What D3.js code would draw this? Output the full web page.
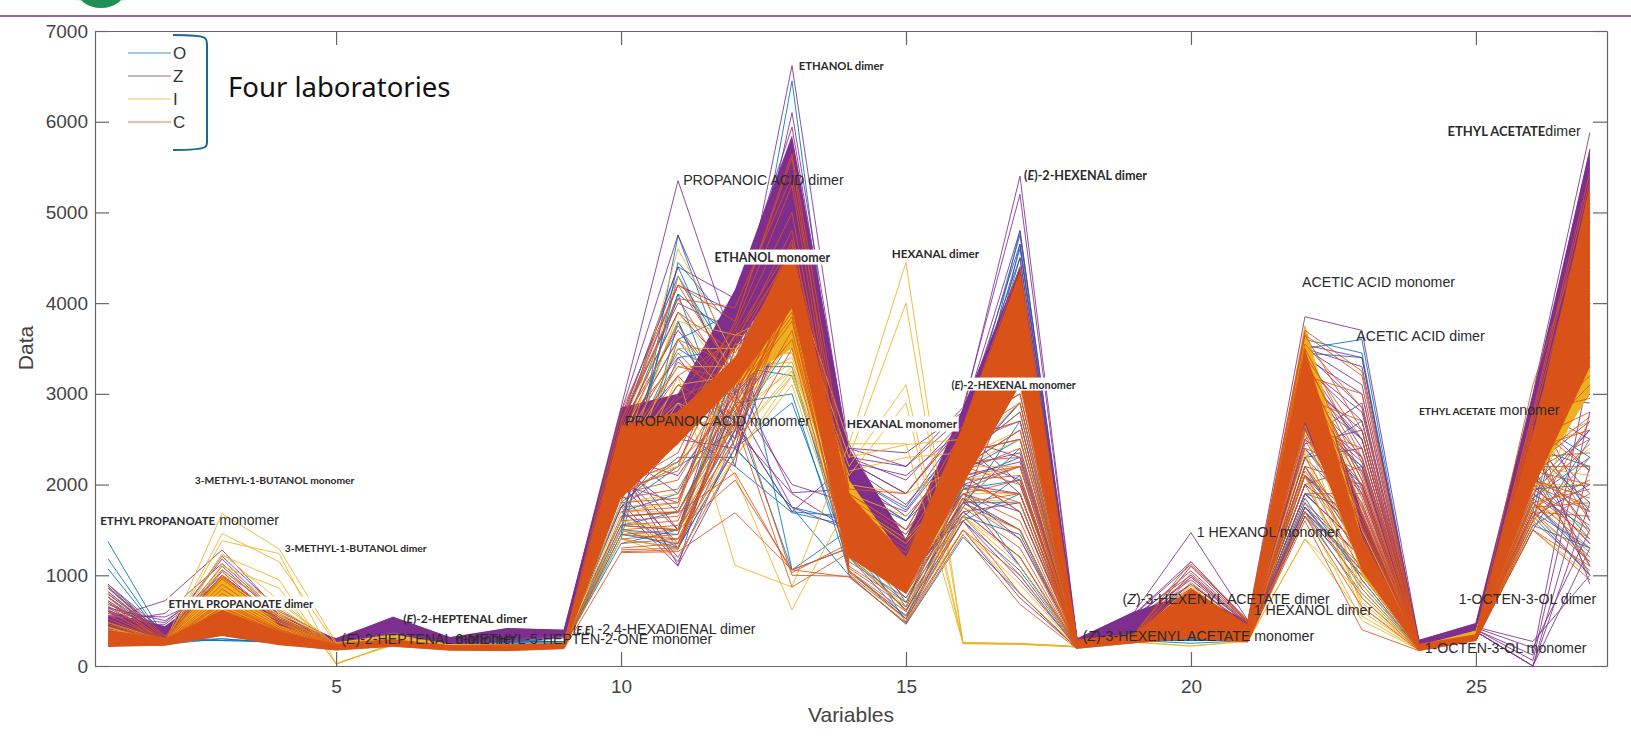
<!DOCTYPE html>
<html>
<head>
<meta charset="utf-8">
<script src="https://d3js.org/d3.v7.min.js"></script>
<style>
  html, body { margin: 0; background: #fff; }
  svg { display: block; }
</style>
</head>
<body>
<svg id="chart" width="1631" height="744"></svg>
<script>
const labNames = ["O", "Z", "I", "C"];
const xTicks = [5, 10, 15, 20, 25];
const yTicks = [0, 1000, 2000, 3000, 4000, 5000, 6000, 7000];

// solid core of each lab, low and high edge per variable
const zLow  = [400,300,500,350,240,370,255,300,340,2300,2600,3500,4450,1900,1000,2400,3400,220,350,400,300,2600,1300,220,340,2450,3500];
const zHigh = [560,440,900,520,310,540,320,420,400,2850,3000,4150,5850,2400,1400,2850,4400,300,600,800,500,3500,1700,290,470,3000,5700];
const iLow  = [230,230,500,250,210,240,200,200,220,1900,2450,3100,3500,1500,800,2000,3100,210,260,400,270,2900,1000,190,310,2000,3000];
const iHigh = [320,290,1000,450,260,350,240,240,260,2500,2750,3350,3950,2050,1150,2400,3800,260,330,700,360,3750,1400,230,390,2500,4800];
const cLow  = [210,225,330,230,175,215,170,165,190,1850,2450,3100,3950,1200,800,2000,3100,190,250,300,260,2700,1050,170,280,1950,3300];
const cHigh = [400,300,620,380,240,290,225,230,250,2650,2800,3400,4600,1900,1200,2650,4350,290,350,850,450,3500,1400,240,340,2550,5300];

// complete profiles, one per sample
const labO = [
  [1370,300,420,260,200,240,190,190,210,1450,4750,3000,6450,1700,900,2200,4800,230,290,330,290,3600,3450,190,300,1700,1300],
  [1180,280,300,255,195,235,185,185,205,1500,4450,3700,5400,1650,700,1950,4650,220,280,300,280,3500,3600,185,295,1900,1500],
  [1070,290,280,270,190,240,190,180,210,1800,4300,3300,5000,1500,650,2300,4500,225,285,290,275,3450,3400,180,290,2100,1700],
  [900,310,400,300,200,260,200,210,220,2100,4100,2400,1750,1600,1150,1600,1900,240,300,450,300,1900,1700,190,300,2400,2200],
  [860,300,460,280,210,250,210,220,215,1400,3800,2200,1690,1550,1000,1650,2100,230,310,500,310,2000,1500,200,310,2200,1000],
  [760,280,520,300,205,245,205,240,230,1600,3600,3900,1060,1500,480,1800,2400,250,320,620,330,2800,2200,210,305,2500,3000],
  [600,270,600,320,215,255,230,260,240,1900,3400,3500,4800,1800,1400,2500,3200,260,340,700,340,2600,2000,220,320,2000,2600],
  [520,290,700,350,220,270,240,300,260,2300,3000,3100,5200,1900,1600,2200,2900,250,300,800,360,2300,2700,215,330,2350,1800],
  [450,260,380,290,200,240,215,250,250,1750,2200,2600,4600,2000,1300,2050,3500,235,290,300,300,1750,1000,200,310,1850,2300],
  [380,250,440,270,195,230,200,230,235,1550,1700,2900,3800,1750,850,1750,2700,220,280,280,285,2200,1250,195,300,2050,3400],
  [320,255,350,260,190,235,195,240,225,1350,1500,3300,3200,1300,600,1850,1500,215,275,320,280,1650,800,185,295,1700,4100],
  [300,240,300,250,185,225,190,235,215,1500,1300,2400,2900,1200,520,2000,1100,210,270,310,275,1850,950,180,290,1550,1300]
];
const labZ = [
  [520,720,1280,600,290,540,310,410,395,2850,5350,3500,6620,2400,2350,2800,5400,300,590,1470,500,3850,3700,280,470,3000,5880],
  [480,580,1130,560,280,520,300,400,390,2800,4750,3300,6100,2300,2200,2850,5200,295,570,1150,480,3540,3400,270,450,2900,5700],
  [540,480,1000,520,275,500,295,390,385,2700,4400,4050,5940,2250,1900,2700,4650,285,550,1000,470,3500,3100,260,440,2800,5200],
  [450,460,950,500,270,480,290,380,380,2650,4200,3900,5800,2100,1750,2650,4400,280,520,950,460,3300,2800,255,380,0,2200],
  [580,430,880,480,265,460,285,370,370,2600,3900,3200,1910,1950,1700,2500,2300,275,500,900,450,3100,2500,250,400,120,3300],
  [650,410,820,460,260,450,280,360,360,2500,3600,2700,1700,2250,2100,2600,2000,270,480,850,440,2800,2300,245,430,270,1000],
  [610,390,760,450,255,430,275,350,355,2450,3200,2500,5500,2000,1600,2450,1900,265,460,780,420,2600,1900,240,420,1800,4900],
  [500,380,700,440,250,420,270,340,350,2400,2600,2200,5300,1900,1400,2200,2600,260,430,720,400,2400,1700,235,410,2300,4400],
  [470,360,660,420,245,400,265,330,345,2350,1900,2900,5100,1800,1250,2100,1700,255,400,650,380,2200,2000,230,400,2600,3800],
  [430,350,620,400,240,380,260,320,340,2300,1500,3100,4900,1700,1150,1900,1400,250,380,600,360,2000,1500,225,390,2500,3200],
  [410,340,580,390,240,370,255,310,340,2200,1110,2300,4700,1600,1050,1850,1100,245,360,520,340,1750,1200,220,380,2200,2700],
  [760,330,540,380,235,360,250,300,335,2100,1300,2600,1900,1500,950,1700,1800,240,350,500,330,1700,1050,215,370,1650,2000],
  [700,320,500,370,235,355,250,295,330,2000,1800,3600,4300,1400,850,2000,2200,235,340,460,320,1900,1300,210,360,2000,1350],
  [640,310,470,360,230,350,245,290,325,1900,2200,3800,4100,2450,1300,2250,2900,230,330,440,310,2100,1600,205,350,2400,1100],
  [820,300,450,350,230,340,240,280,320,1750,2500,3400,3900,2350,1000,2350,3100,225,320,420,300,2300,2400,200,340,2700,900],
  [880,290,430,340,225,330,235,270,310,1600,3000,3000,3700,2200,900,1800,3300,220,310,400,290,2500,2900,195,330,2950,1600]
];
const labI = [
  [300,260,1680,1290,260,300,230,230,250,2300,4600,3400,4300,2450,4450,250,240,210,280,420,300,3750,1500,200,350,2300,4800],
  [280,250,1460,1150,240,320,225,225,245,2200,4300,3200,4100,2300,4000,260,245,215,275,500,295,3600,1400,195,340,2200,4500],
  [290,255,1380,1240,20,250,220,225,240,2100,3900,3100,3900,2200,3100,255,250,215,270,560,290,3500,1300,190,330,2100,4200],
  [270,245,1220,950,20,240,215,220,235,1900,3600,2900,3700,2100,2900,245,240,210,265,620,285,3400,1200,190,320,2000,3600],
  [260,240,1100,860,30,230,210,215,230,1800,3200,1110,870,2450,2450,250,245,210,260,220,280,1400,800,185,310,1900,3100],
  [310,280,1000,700,230,300,225,240,245,1950,2900,2100,620,1800,1350,2100,3400,240,320,760,340,3300,1100,210,370,2450,2600],
  [340,270,920,620,235,330,235,235,255,2450,2600,3650,3600,1900,1650,2300,2600,250,300,840,330,3100,1000,220,380,2250,5200],
  [360,290,860,560,220,310,230,230,250,2050,2200,3550,3450,1650,1000,2200,2200,235,290,900,320,2900,900,205,360,2000,2000],
  [400,300,800,520,215,290,220,220,240,1700,1800,3300,3350,1550,900,1900,1900,225,280,650,310,2600,750,200,345,1800,1400],
  [430,265,740,480,210,270,210,210,235,1600,1500,2800,3250,1450,800,1750,1500,220,270,540,300,2350,650,195,335,1650,1200],
  [480,250,660,430,205,260,205,205,225,1500,1350,2500,3200,1350,700,1650,1100,215,265,460,290,2100,600,190,325,1550,3300],
  [250,235,600,400,200,250,200,200,220,1400,1200,2300,3100,1250,600,1500,800,210,260,330,275,1700,500,180,315,1500,1000]
];
const labC = [
  [900,330,1060,580,250,290,225,235,250,2800,4200,3800,5650,1950,1900,2650,4400,290,350,1150,500,3700,3250,240,345,2800,5450],
  [820,320,980,540,240,285,220,230,245,2700,4050,3950,5400,1900,1500,2600,4300,285,345,1100,480,3650,3200,235,340,3100,5000],
  [330,250,470,330,190,230,195,200,210,1650,1690,2130,1030,1350,900,1950,2200,230,290,540,350,2200,1400,180,285,1800,1950],
  [300,245,440,320,185,228,190,200,205,1550,1500,2050,1060,1300,850,1900,2050,225,285,500,340,2150,1300,175,285,1750,1800],
  [280,240,420,310,185,225,190,195,205,1450,1400,2700,870,1250,800,1800,1900,220,280,460,320,2100,1200,175,280,1700,1650],
  [225,228,340,250,175,216,175,170,190,1250,1260,1690,1060,980,480,1500,1000,195,255,320,270,1600,400,168,282,1500,1100]
];

// partial traces for the crowded stretches, each row starts at the variable in its name
const cFrom1 = [
  [800,300,1000,520,230],[720,290,960,500,225],[660,285,900,470,220],[600,280,850,450,215],[560,270,800,430,210],[520,265,760,410,205],
  [480,260,720,400,200],[460,255,700,390,200],[440,250,680,385,195],[700,245,650,375,195],[620,240,640,370,190],[760,235,560,350,190]
];
const zFrom1 = [
  [900,370,1180,560,260],[860,340,1100,540,255],[790,330,1040,500,250],[680,420,980,480,245],[640,500,900,460,245],[600,360,1210,620,270],[720,310,1000,520,240],[560,540,840,450,250]
];
const iFrom1 = [
  [480,280,1240,720,240],[420,270,1120,650,230],[380,260,1060,600,220],[340,255,880,540,215],[360,250,940,560,210],[300,245,820,500,205]
];
const oFrom1 = [
  [620,300,280,270,200],[540,280,370,300,205],[480,260,400,280,195],[420,270,480,290,210]
];
const oFrom6 = [
  [250,270,270,270],[245,265,265,260],[240,260,280,265]
];
const cFrom10 = [
  [2700,4200,3200,4700,1950],[2650,4050,3050,4300,1900],[2600,3900,3450,4500,1850],[2550,3750,2900,4150,1800],[2500,3600,3300,4400,1780],
  [2450,3450,2800,4050,1750],[2400,3300,3150,4250,1700],[2300,3200,3600,4550,1650],[2250,3100,2750,4000,1620],[2200,3000,3700,5000,1600],
  [2150,2800,3750,5300,1560],[2100,2600,3800,5600,1500],[2050,2450,3550,4800,1480],[2000,2250,3400,4200,1450],[1950,2150,3250,4350,1420],
  [1900,2050,3100,3950,1400],[1850,1950,3000,4100,1350],[1800,1850,2950,3800,1320],[1750,1800,3350,4450,1290],[1700,1750,3500,4600,1260],
  [1650,1700,2850,3600,1230],[1600,1650,2650,4000,1200],[1550,1600,3050,3900,1170],[1500,1550,2600,3700,1140],[1450,1500,2500,4050,1110],
  [1400,1450,3200,4300,1080],[1350,1400,2400,3500,1050],[1300,1350,2750,4150,1020],[1280,1300,3000,3850,1000],[1260,1280,2900,1000,990],
  [2350,3350,2950,4350,1880],[2280,2950,3250,4500,1760],[2120,2700,2650,4200,1680],[1980,2350,3650,4650,1640],[1880,2250,2850,4250,1530]
];
const zFrom10 = [
  [2750,4300,3100,5500,2380],[2700,4000,3700,5300,2300],[2650,3700,2900,5000,2200],[2600,3400,2600,4800,2100],[2500,3000,3300,5200,2050],
  [2400,2500,2400,4600,2000],[2300,2100,3000,2000,1800],[2200,1700,2700,4400,1700],[2100,1500,3500,4200,1600],[2000,1350,2900,1750,1500],
  [1900,1200,2300,4000,1400],[1800,1150,2500,3900,1300],[1750,1100,3200,3800,1250],[1700,1300,2800,3700,1150]
];
const oFrom10 = [
  [2600,4400,3000,4900,1950],[2500,4100,3600,5100,1900],[2350,3800,2500,4500,1800],[2200,3500,3100,4700,1700],[2100,3100,2700,1700,1650],
  [1950,2700,3400,4300,1550],[1800,2300,2300,4100,1500],[1700,1900,3200,3900,1400],[1650,1700,2800,1060,1300],[1550,1500,2600,3600,1200],
  [1500,1450,3300,3300,1100],[1450,1350,2900,3000,1050],[1400,1300,2400,1750,1000]
];
const iFrom10 = [
  [2500,3800,3650,3950,2100],[2400,3500,3500,3800,2050],[2300,3300,3300,3700,2000],[2200,3100,3200,3600,1950],[2100,2800,3050,3550,1900],
  [2000,2500,3400,3450,1850],[1900,2200,3100,3400,1800],[1800,1900,2900,3350,1700],[1700,1700,2700,3300,1600],[1600,1500,2500,3250,1500],
  [1500,1400,2300,3200,1400],[1400,1300,3500,3500,1300],[2300,2900,2600,3650,1200],[2150,2600,2800,3750,1150]
];
const cFrom14 = [
  [1900,1500,2600,3000,280],[1850,1450,2500,2900,275],[1800,1400,2300,2800,270],[1750,1350,2450,2700,265],[1700,1300,2200,2600,260],
  [1650,1250,2350,2500,255],[1600,1200,2150,2400,250],[1550,1150,2250,2300,245],[1500,1100,2100,2200,240],[1450,1050,2050,2100,235],
  [1400,1000,2200,2000,230],[1350,950,1950,1900,225],[1300,900,2000,1800,220],[1250,850,2100,1700,215],[1200,800,1900,1600,210],
  [1150,750,1850,1500,205],[1100,700,1800,1400,200],[1080,650,1750,1300,200],[1050,600,1700,1200,195],[1030,560,1650,1000,195],
  [1010,520,1600,800,190],[990,470,1450,680,190]
];
const zFrom14 = [
  [2400,2200,2750,4800,300],[2300,2050,2700,4500,295],[2250,1900,2650,3000,290],[2200,1780,2500,2700,285],[2100,1650,2350,2500,280],
  [2000,1500,2200,2350,270],[1900,1400,2100,2250,265],[1800,1300,2300,2050,255],[1700,1150,2000,1900,250],[1600,1000,1900,1700,240],
  [1500,900,1800,1500,230],[1350,750,1700,1200,220],[1200,620,1600,950,210],[1050,520,1500,750,200]
];
const oFrom14 = [
  [2100,1720,2550,4750,300],[2000,1600,2450,4600,290],[1900,1450,2300,2800,280],[1800,1300,2150,2500,270],[1650,1200,2050,2300,260],
  [1500,1050,1950,2050,250],[1350,900,1800,1800,240],[1200,700,1650,1450,220],[1050,550,1600,1050,205],[1000,460,1420,800,195]
];
const iFrom14 = [
  [2300,2440,2500,3100,260],[2150,2300,2350,2900,250],[2000,1900,2200,2500,240],[1800,1400,2050,2200,230],[1500,1000,1850,1800,220],[1200,650,1650,1200,210],[1050,500,1500,900,200]
];
const cFrom18 = [
  [340,1100,480],[335,1020,470],[330,980,450],[325,920,430],[320,860,420],[315,800,410],[305,760,400],[300,700,380],[295,620,360],[285,560,340],[280,480,320]
];
const zFrom18 = [
  [560,1120,500],[520,1050,480],[480,980,460],[440,900,430],[400,820,400],[370,720,370]
];
const iFrom18 = [
  [320,880,400],[310,760,360],[300,640,330],[290,540,300],[280,460,290],[270,220,270]
];
const oFrom18 = [
  [300,300,300],[295,280,290],[285,250,280],[280,340,275]
];
const cFrom21 = [
  [500,3650,2600,240],[480,3500,2300,235],[470,3400,2100,230],[450,3300,1950,225],[440,3200,3000,225],[430,3100,1850,220],[420,3000,1750,220],[410,2950,2700,215],
  [400,2850,1650,215],[390,2750,1550,210],[380,2650,2400,210],[370,2550,1450,205],[360,2500,1350,205],[350,2400,2150,200],[340,2300,1250,200],[330,2200,1150,195],
  [320,2100,1050,190],[310,2000,950,185],[300,1900,1900,185],[290,1800,850,180],[280,1700,750,175],[275,1650,650,172],
  [490,3550,2850,238],[460,3420,2500,232],[445,3350,2250,228],[425,3250,2050,222],[405,3150,1980,218],[395,3050,1780,215],[375,2900,1680,212],[355,2800,1520,208],[345,2700,1600,205],[335,2600,1420,200]
];
const zFrom21 = [
  [500,3500,3300,280],[480,3400,3000,275],[470,3300,2700,270],[450,3200,2500,265],[430,3050,2300,260],[410,2900,2150,250],[400,2750,2000,245],[380,2600,1800,240],
  [370,2450,2600,235],[350,2300,1650,230],[340,2100,1500,220],[320,2000,2200,215],[310,1900,1300,210],[300,1800,1200,205],[290,1700,1100,195],[280,1650,1000,190],
  [490,3450,2850,278],[465,3350,2400,268],[440,3250,2050,262],[420,3120,2600,255],[400,3000,1900,248],[385,2800,2250,242],[365,2650,1750,238],[345,2500,1950,232]
];
const oFrom21 = [
  [450,3000,2500,260],[410,2700,2200,240],[380,2400,1600,220],[330,2100,1400,205],[300,1900,1300,195],[290,1750,1050,190],[280,1700,900,185]
];
const iFrom21 = [
  [360,3650,1700,225],[340,3400,1500,215],[320,3150,1350,210],[300,2900,1200,205],[290,2650,1050,195],[280,2400,850,190],[275,2100,700,185],[270,1400,550,180]
];
const cFrom25 = [
  [340,2750,5350],[340,2700,5100],[335,2650,4700],[335,2550,4350],[330,2450,4000],[330,2350,3700],[325,2300,3400],[325,2450,3100],[320,2500,2800],[320,2400,2600],
  [315,2300,2350],[315,2200,2200],[310,2150,2000],[310,2050,1850],[305,2000,1700],[305,1950,1550],[300,1900,1400],[300,1850,2450],[295,1800,1250],[295,1700,1150],
  [290,1650,2700],[285,1600,1050],[285,1550,1900],[280,1500,950],
  [335,2800,2950],[330,2650,2150],[328,2550,1600],[322,2600,3200],[318,2350,1450],[312,2250,2750],[308,2100,1100],[302,2150,2500],[298,2050,1750],[292,1750,2050],[288,1850,1300],[282,1600,2300]
];
const zFrom25 = [
  [470,2950,2900],[460,2850,2500],[450,2750,2150],[440,2600,1900],[430,2500,3500],[420,2300,1500],[410,2150,3000],[400,2000,1350],[390,1900,2600],[380,1800,1150],
  [370,1700,1000],[360,1600,4000],[380,0,1300],[380,0,1800],[400,60,2800],[420,200,1500]
];
const oFrom25 = [
  [340,2700,2300],[330,2500,1700],[320,2300,3100],[315,2100,1400],[310,1950,2000],[305,1800,1200],[300,1650,1000],[295,1500,2500]
];
const iFrom25 = [
  [380,2500,4300],[370,2450,3900],[360,2400,2700],[350,2300,3500],[340,2200,2100],[330,2100,1700],[320,1950,2400],[310,1800,1500]
];

const labelBold = ["3-METHYL-1-BUTANOL monomer","ETHYL PROPANOATE","3-METHYL-1-BUTANOL dimer","ETHYL PROPANOATE dimer","(E)-2-HEPTENAL dimer","","","(E,E)","ETHANOL dimer","","ETHANOL monomer","HEXANAL dimer","(E)-2-HEXENAL dimer","(E)-2-HEXENAL monomer","","HEXANAL monomer","","","ETHYL ACETATE","ETHYL ACETATE","","","","","",""];
const labelPlain = [""," monomer","","","","(E)-2-HEPTENAL monomer","6-METHYL-5-HEPTEN-2-ONE monomer"," -2,4-HEXADIENAL dimer","","PROPANOIC ACID dimer","","","","","PROPANOIC ACID monomer","","ACETIC ACID monomer","ACETIC ACID dimer","dimer"," monomer","1 HEXANOL monomer","(Z)-3-HEXENYL ACETATE dimer","1 HEXANOL dimer","(Z)-3-HEXENYL ACETATE monomer","1-OCTEN-3-OL dimer","1-OCTEN-3-OL monomer"];
const labelVar = [2.52,0.86,4.1,2.06,6.18,5.09,7.09,9.16,13.12,11.09,11.64,14.75,17.07,15.8,10.07,13.96,21.95,22.9,24.5,24.0,20.1,18.8,21.1,18.1,24.7,24.1];
const labelVal = [2068,1620,1323,705,540,300,300,420,6630,5360,4520,4555,5415,3120,2710,2680,4235,3640,5900,2825,1485,740,625,340,750,200];
const labelBoldSize = [10.3,11.5,10.3,11.3,12,0,0,11,11.3,0,12.5,11.7,12.6,10.8,0,12,0,0,13,10.2,0,0,0,0,0,0];
const labelBacked = ["ETHYL PROPANOATE dimer","ETHANOL monomer","HEXANAL monomer","(E)-2-HEXENAL monomer"];

const labColor = { O: "#0072BD", Z: "#7E2F8E", I: "#EDB120", C: "#D95319" };

const svg = d3.select("#chart");
const margin = { left: 95, right: 1607, top: 31, bottom: 666 };

const x = d3.scaleLinear().domain([0.77, 27.3]).range([margin.left, margin.right]);
const y = d3.scaleLinear().domain([0, 7000]).range([margin.bottom, margin.top]);

// page header left over from the slide
svg.append("ellipse").attr("cx", 101).attr("cy", -6).attr("rx", 40).attr("ry", 8).attr("fill", "#c6ecd9");
svg.append("ellipse").attr("cx", 101).attr("cy", -12).attr("rx", 25).attr("ry", 20).attr("fill", "#1f8f55");
svg.append("line").attr("x1", 0).attr("x2", 1631).attr("y1", 16).attr("y2", 16)
  .attr("stroke", "#9b62ad").attr("stroke-width", 2);

const band = (low, high) => d3.area()
  .x((d, i) => x(i + 1))
  .y0((d, i) => y(low[i]))
  .y1((d, i) => y(high[i]))(low);

function drawLab(name, rows, low, high, partials) {
  const g = svg.append("g").attr("class", `lab lab-${name}`);
  const addLines = (data, start) => {
    const line = d3.line().x((d, i) => x(start + i)).y(d => y(d));
    g.append("g").selectAll("path")
      .data(data)
      .join("path")
      .attr("d", line)
      .attr("fill", "none")
      .attr("stroke", labColor[name])
      .attr("stroke-width", 1)
      .attr("stroke-opacity", 0.85);
  };
  if (low) {
    g.append("path").attr("d", band(low, high)).attr("fill", labColor[name]);
  }
  addLines(rows, 1);
  partials.forEach(p => addLines(p[1], p[0]));
}

drawLab("O", labO, null, null, [[1, oFrom1], [6, oFrom6], [10, oFrom10], [14, oFrom14], [19, oFrom18], [21, oFrom21], [25, oFrom25]]);
drawLab("Z", labZ, zLow, zHigh, [[1, zFrom1], [10, zFrom10], [14, zFrom14], [19, zFrom18], [21, zFrom21], [25, zFrom25]]);
drawLab("I", labI, iLow, iHigh, [[1, iFrom1], [10, iFrom10], [14, iFrom14], [19, iFrom18], [21, iFrom21], [25, iFrom25]]);
drawLab("C", labC, cLow, cHigh, [[1, cFrom1], [10, cFrom10], [14, cFrom14], [19, cFrom18], [21, cFrom21], [25, cFrom25]]);

// axes, matlab box with inward ticks
const axisColor = "#666";
function styleAxis(g) {
  g.selectAll("path, line").attr("stroke", axisColor).attr("stroke-width", 1.2);
  g.selectAll("text").attr("fill", "#444").attr("font-family", "Liberation Sans, Arial, sans-serif").attr("font-size", 19);
}
svg.append("g").attr("transform", `translate(0,${margin.bottom})`)
  .call(d3.axisBottom(x).tickValues(xTicks).tickSizeInner(-14).tickSizeOuter(0).tickPadding(14))
  .call(styleAxis);
svg.append("g").attr("transform", `translate(0,${margin.top})`)
  .call(d3.axisTop(x).tickValues(xTicks).tickFormat("").tickSizeInner(-14).tickSizeOuter(0))
  .call(styleAxis);
svg.append("g").attr("transform", `translate(${margin.left},0)`)
  .call(d3.axisLeft(y).tickValues(yTicks).tickSizeInner(-14).tickSizeOuter(0).tickPadding(7).tickFormat(d3.format("d")))
  .call(styleAxis);
svg.append("g").attr("transform", `translate(${margin.right},0)`)
  .call(d3.axisRight(y).tickValues(yTicks).tickFormat("").tickSizeInner(-14).tickSizeOuter(0))
  .call(styleAxis);

svg.append("text").text("Variables")
  .attr("x", 851).attr("y", 722).attr("text-anchor", "middle")
  .attr("font-family", "Liberation Sans, Arial, sans-serif").attr("font-size", 21).attr("fill", "#444");
svg.append("text").text("Data")
  .attr("transform", "translate(33,348) rotate(-90)").attr("text-anchor", "middle")
  .attr("font-family", "Liberation Sans, Arial, sans-serif").attr("font-size", 21).attr("fill", "#444");

// legend and the bracket drawn over it
const legendY = d3.scalePoint().domain(labNames).range([53, 122]);
labNames.forEach(name => {
  svg.append("line").attr("x1", 128).attr("x2", 171)
    .attr("y1", legendY(name)).attr("y2", legendY(name))
    .attr("stroke", labColor[name]).attr("stroke-width", 1).attr("stroke-opacity", 0.75);
  svg.append("text").text(name).attr("x", 173).attr("y", legendY(name) + 6)
    .attr("font-family", "Liberation Sans, Arial, sans-serif").attr("font-size", 17).attr("fill", "#333");
});
svg.append("path").attr("d", "M173,35 Q200,35 205,38 Q207,40 207,44 L207,142 Q207,146 205,147 Q200,150 173,150")
  .attr("fill", "none").attr("stroke", "#1a6a8c").attr("stroke-width", 2);
svg.append("text").text("Four laboratories").attr("x", 228).attr("y", 97)
  .attr("font-family", "Noto Sans, sans-serif").attr("font-size", 27.5).attr("fill", "#111");

// compound labels, bold part then plain part, isomer letter in italics
const labels = svg.append("g");
function addRuns(node, text, bold, size) {
  text.split(/(\(E,E\)|\(E\)|\(Z\))/).filter(s => s).forEach(part => {
    const run = s => node.append("tspan").text(s)
      .attr("font-family", bold ? "Lato, sans-serif" : "Liberation Sans, Arial, sans-serif")
      .attr("font-weight", bold ? 700 : 400)
      .attr("font-size", size);
    if (/^\(/.test(part)) {
      run("(");
      run(part.slice(1, -1)).attr("font-style", "italic");
      run(")");
    } else {
      run(part);
    }
  });
}
labelVar.forEach((v, i) => {
  const bold = labelBold[i];
  const t = labels.append("text")
    .attr("x", x(v)).attr("y", y(labelVal[i])).attr("dy", ".35em")
    .attr("fill", "#2b2b2b").attr("xml:space", "preserve").style("white-space", "pre");
  addRuns(t, bold, true, labelBoldSize[i]);
  addRuns(t, labelPlain[i], false, 14.2);
  if (labelBacked.includes(bold)) {
    const b = t.node().getBBox();
    labels.insert("rect", () => t.node())
      .attr("x", b.x - 1).attr("y", b.y).attr("width", b.width + 2).attr("height", b.height)
      .attr("fill", "#fff");
  }
});
</script>
</body>
</html>
